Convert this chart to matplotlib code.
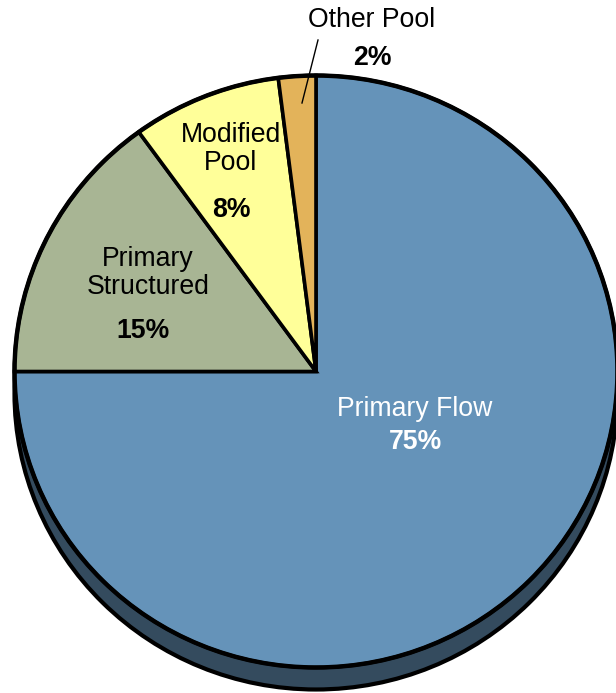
import matplotlib
matplotlib.use("Agg")
import matplotlib.pyplot as plt
from matplotlib.patches import Circle

labels = ["Primary Flow", "Primary Structured", "Modified Pool", "Other Pool"]
values = [75, 15, 8, 2]
pct_labels = ["75%", "15%", "8%", "2%"]
colors = ["#6593B9", "#A8B594", "#FFFF99", "#E3B35A"]
depth_color = "#344B5E"

plt.rcParams['font.family'] = ['Liberation Sans', 'DejaVu Sans']

fig = plt.figure(figsize=(6.16, 6.93), dpi=100)
ax = fig.add_axes([0, 0, 1, 1])

rx, ry = 301.5, 296.0
k = rx / ry


def Y(py):
    return (693 - py) * k


cx, cy, r = 316, Y(371.5), rx
depth = 22 * k

# depth (3D side)
ax.add_patch(Circle((cx, cy - depth), r, facecolor=depth_color,
                    edgecolor="black", linewidth=3, zorder=1))

wedges, _ = ax.pie(values, colors=colors, startangle=90, counterclock=False,
                   center=(cx, cy), radius=r, frame=True,
                   wedgeprops=dict(edgecolor="black", linewidth=2.6))
for w in wedges:
    w.set_zorder(2)
ax.add_patch(Circle((cx, cy), r, facecolor="none", edgecolor="black",
                    linewidth=3.2, zorder=3))

ax.set_xlim(0, 616)
ax.set_ylim(0, 693 * k)
ax.set_aspect("auto")
ax.axis("off")

fs = 19.2
# Primary Flow
ax.text(415, Y(409), labels[0], color="white", fontsize=fs, ha="center", va="center", zorder=5)
ax.text(415, Y(442), pct_labels[0], color="white", fontsize=fs, fontweight="bold", ha="center", va="center", zorder=5)
# Primary Structured
ax.text(148, Y(273), "Primary\nStructured", color="black", fontsize=fs, ha="center", va="center",
        linespacing=1.12, zorder=5)
ax.text(143, Y(331), pct_labels[1], color="black", fontsize=fs, fontweight="bold", ha="center", va="center", zorder=5)
# Modified Pool
ax.text(231, Y(149), "Modified\nPool", color="black", fontsize=fs, ha="center", va="center",
        linespacing=1.12, zorder=5)
ax.text(231, Y(210), pct_labels[2], color="black", fontsize=fs, fontweight="bold", ha="center", va="center", zorder=5)
# Other Pool
ax.text(372, Y(20), labels[3], color="black", fontsize=fs, ha="center", va="center", zorder=5)
ax.text(372, Y(58), pct_labels[3], color="black", fontsize=fs, fontweight="bold", ha="center", va="center", zorder=5)
ax.plot([318, 302], [Y(40), Y(103)], color="black", linewidth=1.0, zorder=5)

fig.savefig("out.png", dpi=100)
